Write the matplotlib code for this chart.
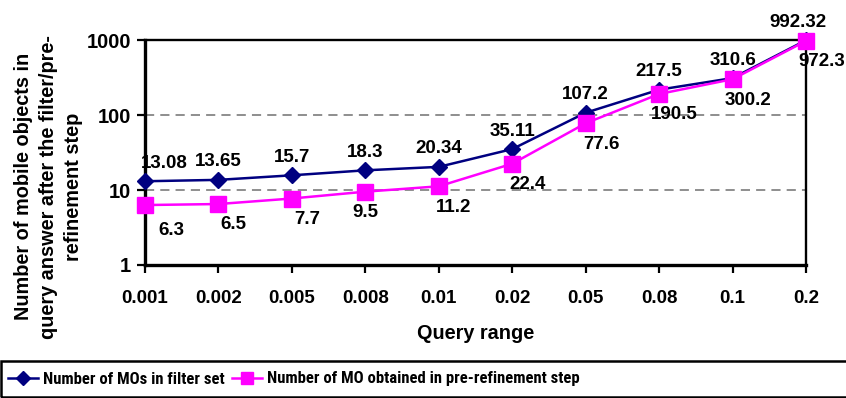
import matplotlib
matplotlib.use("Agg")
import matplotlib.pyplot as plt
from matplotlib import font_manager as fm
from matplotlib.lines import Line2D
from matplotlib.patches import Rectangle

categories = ["0.001", "0.002", "0.005", "0.008", "0.01", "0.02", "0.05", "0.08", "0.1", "0.2"]
filter_set = [13.08, 13.65, 15.7, 18.3, 20.34, 35.11, 107.2, 217.5, 310.6, 992.32]
pre_refine = [6.3, 6.5, 7.7, 9.5, 11.2, 22.4, 77.6, 190.5, 300.2, 972.3]
filter_labels = ["13.08", "13.65", "15.7", "18.3", "20.34", "35.11", "107.2", "217.5", "310.6", "992.32"]
pre_labels = ["6.3", "6.5", "7.7", "9.5", "11.2", "22.4", "77.6", "190.5", "300.2", "972.3"]
series_names = ["Number of MOs in filter set", "Number of MO obtained in pre-refinement step"]
yticks = [1, 10, 100, 1000]

names = {f.name for f in fm.fontManager.ttflist}
main_font = "Liberation Sans" if "Liberation Sans" in names else "DejaVu Sans"
plt.rcParams["font.family"] = [main_font, "DejaVu Sans"]
plt.rcParams["font.weight"] = "bold"

# look for a condensed / narrow bold face for the legend
narrow_file = None
cands = []
for f in fm.fontManager.ttflist:
    low = (f.fname + " " + f.name).lower()
    if ("narrow" in low or "condensed" in low) and "semicondensed" not in low:
        w = f.weight if isinstance(f.weight, int) else (700 if "bold" in str(f.weight) else 400)
        score = 0
        if "bold" in low or w >= 600:
            score += 10
        if "italic" in low or "oblique" in low:
            score -= 20
        if "liberation" in low:
            score += 3
        if "extra" in low or "light" in low or "black" in low:
            score -= 5
        cands.append((score, f.fname))
if cands:
    cands.sort(reverse=True)
    narrow_file = cands[0][1]

if narrow_file:
    leg_prop = fm.FontProperties(fname=narrow_file, size=12)
else:
    leg_prop = fm.FontProperties(family=main_font, weight="bold", size=9.5)

NAVY = "#000080"
MAG = "#FF00FF"

fig = plt.figure(figsize=(8.46, 3.98), dpi=100)
ax = fig.add_axes([145/846, 1-265/398, (806-145)/846, (265-40)/398])
x = list(range(len(categories)))

ax.plot(x, filter_set, color=NAVY, lw=1.8, marker="D", ms=8.5, mfc=NAVY, mec=NAVY, zorder=4, clip_on=False)
ax.plot(x, pre_refine, color=MAG, lw=1.8, marker="s", ms=11, mfc=MAG, mec=MAG, zorder=5, clip_on=False)

ax.set_yscale("log")
ax.set_ylim(1, 1000)
ax.set_xlim(0, len(categories)-1)
ax.set_yticks(yticks)
ax.set_yticklabels([str(v) for v in yticks])
ax.yaxis.set_minor_locator(matplotlib.ticker.NullLocator())
ax.set_xticks(x)
ax.set_xticklabels(categories)
ax.tick_params(axis="both", direction="out", length=6, width=1.6, labelsize=13.5, pad=12)
ax.tick_params(axis="y", pad=4, labelsize=14.5)

for v in [10, 100]:
    ax.axhline(v, color="#707070", lw=1.1, ls=(0, (6, 4)), zorder=1)

for s in ["left", "bottom"]:
    ax.spines[s].set_linewidth(2.4)
for s in ["top", "right"]:
    ax.spines[s].set_linewidth(1.7)

for i, (v, t) in enumerate(zip(filter_set, filter_labels)):
    dx = 14 if i == 0 else (-6 if i == len(x)-1 else 0)
    ax.annotate(t, (i, v), xytext=(dx, 13), textcoords="offset points",
                ha="center", va="center", fontsize=13.5, fontweight="bold", zorder=6,
                annotation_clip=False)
for i, (v, t) in enumerate(zip(pre_refine, pre_labels)):
    dx = 19 if i == 0 else (0 if i == 3 else 11)
    dy = -18 if i == 0 else -15
    ax.annotate(t, (i, v), xytext=(dx, dy), textcoords="offset points",
                ha="center", va="center", fontsize=13.5, fontweight="bold", zorder=6,
                annotation_clip=False)

ax.set_xlabel("Query range", fontsize=14.3, fontweight="bold", labelpad=12)
fig.text(0.0575, 0.531,
         "Number of mobile objects in\nquery answer after the filter/pre-\nrefinement step",
         rotation=90, ha="center", va="center", fontsize=14.3, fontweight="bold",
         multialignment="center", linespacing=1.4)

# legend frame spanning to the right edge
fig.patches.append(Rectangle((1/846, 1/398), 850/846, 36/398, transform=fig.transFigure,
                             fill=False, edgecolor="black", lw=1.8, zorder=1))
handles = [Line2D([0], [0], color=NAVY, lw=1.8, marker="D", ms=7, mfc=NAVY, mec=NAVY),
           Line2D([0], [0], color=MAG, lw=1.8, marker="s", ms=9, mfc=MAG, mec=MAG)]
leg = fig.legend(handles, series_names, loc="center left", bbox_to_anchor=(-0.004, 19/398),
                 ncol=2, frameon=False, borderpad=0.2,
                 handlelength=1.8, handletextpad=0.3, columnspacing=0.45,
                 prop=leg_prop)

fig.savefig("out.png", dpi=100)
